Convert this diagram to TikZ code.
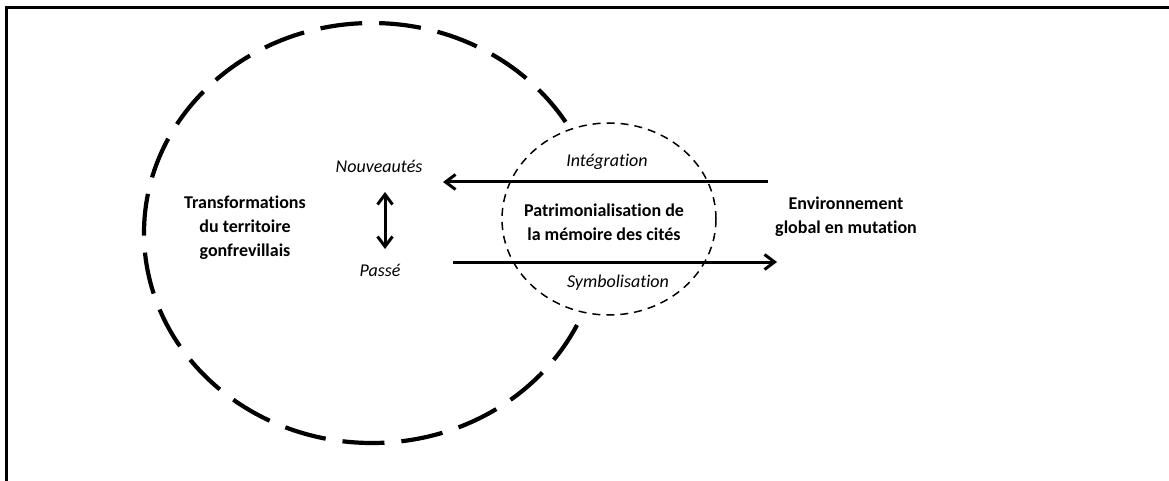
\documentclass[tikz,border=0pt]{standalone}
\usepackage{fontspec}
\setmainfont{Carlito}[Ligatures=NoCommon]
\usetikzlibrary{arrows.meta,shapes.geometric}
\begin{document}
\begin{tikzpicture}[x=1pt,y=-1pt,
  >={Straight Barb[length=10pt,width=15pt]},
  lbl/.style={font=\fontsize{18}{24}\selectfont\itshape, inner sep=0pt},
  boldlbl/.style={font=\fontsize{18}{24}\selectfont\bfseries, align=center, inner sep=0pt},
  arr/.style={line width=3pt},
  bigring/.style={draw, ellipse, line width=4.2pt, dash pattern=on 42pt off 17pt, inner sep=0pt},
  smallring/.style={draw, ellipse, fill=white, line width=1.5pt, dash pattern=on 8pt off 6pt, inner sep=0pt},
]
\useasboundingbox (0,0) rectangle (1169,481);
\draw[line width=2.5pt] (6.5,481) -- (6.5,7.5) -- (1169,7.5);

\node[bigring, minimum width=456pt, minimum height=420pt] (big) at (372,233) {};
\node[smallring, minimum width=214pt, minimum height=192pt] (small) at (609,219) {};

\node[boldlbl] (transf) at (245,228) {Transformations\\du territoire\\gonfrevillais};
\node[lbl, anchor=base] (nouv) at (379,173) {Nouveautés};
\node[lbl, anchor=base] (passe) at (380,276) {Passé};
\node[lbl, anchor=base] (integ) at (607,167) {Intégration};
\node[lbl, anchor=base] (symb) at (618,287) {Symbolisation};
\node[boldlbl] (patri) at (604,222) {Patrimonialisation de\\la mémoire des cités};
\node[boldlbl] (env) at (846,217) {Environnement\\global en mutation};

\coordinate (iA) at (768,182);
\coordinate (iB) at (443,182);
\coordinate (sA) at (453,262);
\coordinate (sB) at (777,262);
\coordinate (np1) at (385,192);
\coordinate (np2) at (385,249);
\draw[arr,->] (iA) -- (iB);
\draw[arr,->] (sA) -- (sB);
\draw[arr,<->] (np1) -- (np2);
\end{tikzpicture}
\end{document}
